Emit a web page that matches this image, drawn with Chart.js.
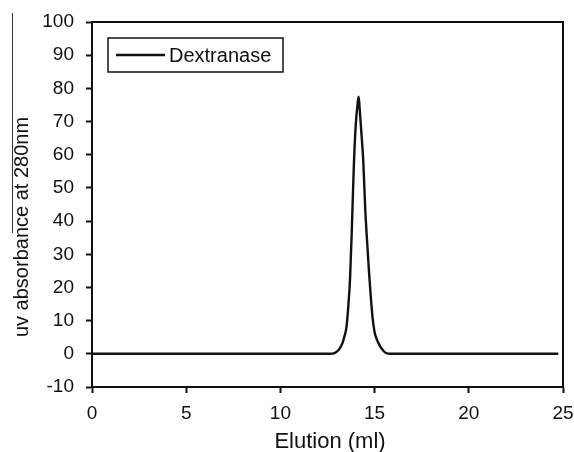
<!DOCTYPE html>
<html>
<head>
<meta charset="utf-8">
<script src="https://cdn.jsdelivr.net/npm/chart.js@4"></script>
<style>
  html, body { margin: 0; padding: 0; background: #fff; }
  #wrap { width: 574px; height: 452px; }
</style>
</head>
<body>
<div id="wrap"><canvas id="chart" width="574" height="452"></canvas></div>
<script>
const elution = [0, 10.7, 12.6, 12.9, 13.1, 13.3, 13.4, 13.5, 13.6, 13.7, 13.8, 13.9, 14.0, 14.1, 14.15,
  14.2, 14.3, 14.4, 14.5, 14.6, 14.7, 14.8, 14.9, 15.0, 15.1, 15.2, 15.3, 15.4, 15.5, 15.6, 15.8, 24.75];
const absorbance = [0, 0, 0, 0.3, 1.2, 3.3, 5.3, 7.8, 14, 23, 39, 57, 69, 75.5, 77.5,
  74.5, 66.5, 58, 44, 34, 25, 17, 10.5, 6.5, 4.6, 3.3, 2.2, 1.4, 0.7, 0.3, 0, 0];
const seriesName = "Dextranase";
const xTitle = "Elution (ml)";
const yTitle = "uv absorbance at 280nm";

const FONT = "'Liberation Sans', Arial, sans-serif";
const INK = "#111";

// frame, legend box, axis titles and the stray scan line at the left
const decorations = {
  id: "decorations",
  afterDraw(chart) {
    const { ctx, chartArea: a } = chart;
    ctx.save();

    ctx.strokeStyle = INK;
    ctx.lineWidth = 2;
    ctx.beginPath();
    ctx.moveTo(a.left, a.top);
    ctx.lineTo(a.right, a.top);
    ctx.lineTo(a.right, a.bottom);
    ctx.stroke();

    // legend
    const lx = a.left + 16, ly = a.top + 16;
    ctx.lineWidth = 1.5;
    ctx.strokeRect(lx, ly, 175, 34);
    ctx.lineWidth = 2.5;
    ctx.beginPath();
    ctx.moveTo(lx + 8, ly + 17);
    ctx.lineTo(lx + 57, ly + 17);
    ctx.stroke();
    ctx.fillStyle = INK;
    ctx.font = "20px " + FONT;
    ctx.textAlign = "left";
    ctx.textBaseline = "middle";
    ctx.fillText(chart.data.datasets[0].label, lx + 61, ly + 18);

    // axis titles
    ctx.font = "22px " + FONT;
    ctx.textAlign = "center";
    ctx.fillText(xTitle, 330, 442);

    ctx.save();
    ctx.translate(22, 227);
    ctx.rotate(-Math.PI / 2);
    ctx.font = "20px " + FONT;
    ctx.fillText(yTitle, 0, 0);
    ctx.restore();

    ctx.strokeStyle = "#333";
    ctx.lineWidth = 1;
    ctx.beginPath();
    ctx.moveTo(12.5, 13);
    ctx.lineTo(12.5, 233);
    ctx.stroke();

    ctx.restore();
  },
};

const axisStyle = {
  border: { display: true, color: INK, width: 2 },
  grid: { display: true, drawOnChartArea: false, drawTicks: true, tickLength: 6, tickWidth: 2, tickColor: INK },
};

new Chart(document.getElementById("chart"), {
  type: "line",
  data: {
    datasets: [
      {
        label: seriesName,
        data: elution.map((x, i) => ({ x, y: absorbance[i] })),
        borderColor: INK,
        borderWidth: 2.4,
        pointRadius: 0,
        cubicInterpolationMode: "monotone",
        fill: false,
      },
    ],
  },
  options: {
    responsive: false,
    animation: false,
    layout: { padding: { left: 0, right: 11, top: 22, bottom: 0 } },
    plugins: { legend: { display: false }, tooltip: { enabled: false } },
    scales: {
      x: {
        type: "linear",
        min: 0,
        max: 25,
        ...axisStyle,
        ticks: { stepSize: 5, color: INK, padding: 9, font: { family: FONT, size: 19 } },
        afterFit: (s) => { s.height = 65; s.paddingLeft = 0; s.paddingRight = 0; },
      },
      y: {
        type: "linear",
        min: -10,
        max: 100,
        ...axisStyle,
        ticks: { stepSize: 10, color: INK, padding: 12, font: { family: FONT, size: 19 } },
        afterFit: (s) => { s.width = 92; s.paddingTop = 0; s.paddingBottom = 0; },
      },
    },
  },
  plugins: [decorations],
});
</script>
</body>
</html>
